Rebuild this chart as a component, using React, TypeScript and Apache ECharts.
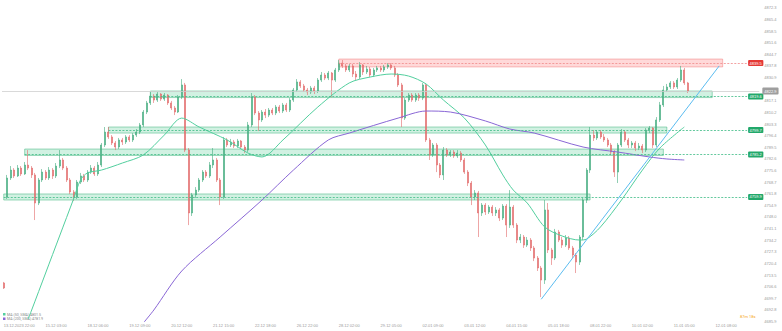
import { useEffect, useRef } from "react";
import * as echarts from "echarts";

// ---- candles: [open, close, low, high] kept as separate arrays ----
const opens = [4708.8,4759.9,4771.2,4775.9,4772.4,4777.1,4773.6,4778.9,4777.1,4773.0,4756.3,4770.0,4774.7,4771.2,4775.9,4772.4,4778.3,4781.9,4777.1,4770.0,4762.9,4759.9,4768.8,4772.4,4770.0,4774.7,4777.1,4773.6,4778.9,4790.8,4798.5,4795.6,4792.0,4789.6,4793.8,4792.6,4795.6,4793.8,4796.7,4798.5,4802.7,4810.4,4815.8,4819.9,4817.5,4821.1,4818.1,4820.5,4815.8,4812.8,4810.4,4819.3,4826.5,4787.8,4750.4,4761.1,4764.0,4770.0,4774.7,4772.4,4778.9,4781.9,4770.0,4759.9,4793.8,4790.8,4792.6,4790.2,4793.2,4789.6,4787.8,4802.7,4819.3,4809.8,4805.7,4810.4,4808.6,4811.6,4809.8,4813.4,4811.0,4814.6,4811.6,4817.5,4823.5,4828.3,4825.9,4823.5,4822.3,4824.7,4822.9,4829.4,4832.4,4830.6,4833.6,4829.4,4835.4,4839.5,4837.8,4835.4,4837.8,4833.0,4831.2,4838.4,4834.2,4836.0,4832.4,4835.4,4836.6,4835.4,4837.2,4838.4,4836.6,4832.4,4826.5,4806.8,4817.5,4820.5,4817.5,4820.5,4818.7,4826.5,4793.8,4784.9,4790.8,4778.9,4773.0,4787.8,4784.9,4786.6,4784.3,4786.0,4781.9,4774.7,4768.2,4759.9,4762.3,4750.4,4755.1,4751.0,4753.9,4750.4,4752.2,4747.4,4754.5,4743.2,4753.9,4743.2,4734.3,4736.1,4731.3,4734.3,4729.6,4723.6,4717.7,4710.5,4752.2,4728.4,4723.6,4739.1,4734.3,4731.3,4735.5,4729.6,4725.4,4721.2,4736.1,4758.1,4775.9,4796.7,4795.0,4798.5,4795.6,4793.8,4790.8,4786.6,4774.7,4790.8,4798.5,4793.8,4790.8,4792.0,4789.0,4790.2,4787.8,4799.7,4800.9,4790.8,4805.7,4814.6,4823.5,4825.3,4827.7,4825.3,4829.4,4835.4,4827.7];
const closes = [4705.8,4771.2,4775.9,4772.4,4777.1,4773.6,4778.9,4777.1,4773.0,4756.3,4770.0,4774.7,4771.2,4775.9,4772.4,4778.3,4781.9,4777.1,4770.0,4762.9,4759.9,4768.8,4772.4,4770.0,4774.7,4777.1,4773.6,4778.9,4790.8,4798.5,4795.6,4792.0,4789.6,4793.8,4792.6,4795.6,4793.8,4796.7,4798.5,4802.7,4810.4,4815.8,4819.9,4817.5,4821.1,4818.1,4820.5,4815.8,4812.8,4810.4,4819.3,4826.5,4787.8,4750.4,4761.1,4764.0,4770.0,4774.7,4772.4,4778.9,4781.9,4770.0,4759.9,4793.8,4790.8,4792.6,4790.2,4793.2,4789.6,4787.8,4802.7,4819.3,4809.8,4805.7,4810.4,4808.6,4811.6,4809.8,4813.4,4811.0,4814.6,4811.6,4817.5,4823.5,4828.3,4825.9,4823.5,4822.3,4824.7,4822.9,4829.4,4832.4,4830.6,4833.6,4829.4,4835.4,4839.5,4837.8,4835.4,4837.8,4833.0,4831.2,4838.4,4834.2,4836.0,4832.4,4835.4,4836.6,4835.4,4837.2,4838.4,4836.6,4832.4,4826.5,4806.8,4817.5,4820.5,4817.5,4820.5,4818.7,4826.5,4793.8,4784.9,4790.8,4778.9,4773.0,4787.8,4784.9,4786.6,4784.3,4786.0,4781.9,4774.7,4768.2,4759.9,4762.3,4750.4,4755.1,4751.0,4753.9,4750.4,4752.2,4747.4,4754.5,4743.2,4753.9,4743.2,4734.3,4736.1,4731.3,4734.3,4729.6,4723.6,4717.7,4710.5,4752.2,4728.4,4723.6,4739.1,4734.3,4731.3,4735.5,4729.6,4725.4,4721.2,4736.1,4758.1,4775.9,4796.7,4795.0,4798.5,4795.6,4793.8,4790.8,4786.6,4774.7,4790.8,4798.5,4793.8,4790.8,4792.0,4789.0,4790.2,4787.8,4799.7,4800.9,4790.8,4805.7,4814.6,4823.5,4825.3,4827.7,4825.3,4829.4,4835.4,4827.7,4822.9];
const lows = [4705.2,4758.7,4770.0,4771.2,4771.8,4772.4,4773.0,4775.9,4771.2,4746.2,4755.1,4768.8,4770.0,4770.0,4770.6,4771.2,4777.1,4775.9,4768.8,4761.7,4757.5,4758.7,4767.6,4768.8,4768.8,4773.6,4772.4,4772.4,4777.7,4789.6,4794.4,4790.8,4787.8,4788.4,4790.8,4791.4,4792.6,4792.6,4795.6,4797.3,4801.5,4809.2,4814.6,4815.8,4816.4,4817.0,4817.0,4814.6,4811.6,4808.6,4809.8,4818.1,4786.6,4743.2,4748.6,4759.3,4762.9,4768.8,4771.2,4771.2,4777.1,4768.8,4755.1,4758.7,4789.6,4789.6,4789.0,4789.0,4788.4,4786.0,4786.6,4801.5,4808.6,4799.1,4804.5,4806.8,4807.4,4808.6,4808.6,4809.8,4809.8,4810.4,4810.4,4816.4,4822.3,4824.7,4822.3,4820.5,4821.1,4821.1,4821.7,4828.3,4829.4,4829.4,4819.3,4828.3,4834.2,4836.6,4834.2,4834.2,4831.2,4829.4,4830.0,4832.4,4833.0,4831.2,4831.2,4834.2,4834.2,4834.2,4836.0,4835.4,4831.2,4825.3,4801.5,4805.7,4816.4,4816.4,4816.4,4817.0,4817.5,4792.6,4781.9,4783.7,4774.7,4771.2,4770.0,4783.7,4783.7,4783.1,4783.1,4780.7,4773.6,4766.4,4755.1,4758.1,4736.1,4748.6,4749.2,4749.8,4748.6,4748.6,4745.6,4746.2,4736.1,4741.5,4741.5,4732.5,4732.5,4729.6,4730.2,4727.8,4721.8,4715.9,4700.4,4708.2,4726.6,4719.5,4722.4,4733.1,4729.6,4730.2,4728.4,4723.6,4714.7,4719.5,4734.3,4756.3,4774.2,4793.2,4793.8,4794.4,4792.6,4789.6,4784.9,4771.8,4768.2,4789.6,4792.6,4789.0,4789.0,4787.2,4787.8,4786.0,4786.6,4797.9,4789.0,4789.6,4804.5,4813.4,4822.3,4824.1,4824.1,4824.1,4828.3,4826.5,4821.7];
const highs = [4709.4,4773.0,4778.3,4777.1,4778.9,4778.3,4780.7,4787.8,4778.3,4774.2,4771.2,4776.5,4775.9,4777.7,4777.1,4780.1,4787.8,4783.1,4778.3,4771.2,4764.0,4770.0,4774.2,4773.6,4775.9,4778.9,4778.3,4780.7,4792.0,4801.5,4801.5,4796.7,4793.2,4795.0,4795.0,4796.7,4796.7,4797.9,4800.3,4803.9,4811.6,4817.0,4822.3,4821.1,4822.3,4821.7,4821.7,4821.1,4817.0,4814.0,4820.5,4830.0,4827.7,4789.0,4762.3,4765.8,4771.2,4775.9,4775.9,4780.7,4789.0,4783.1,4771.2,4795.6,4795.0,4794.4,4793.8,4794.4,4793.8,4790.8,4804.5,4821.7,4820.5,4811.0,4811.6,4812.2,4812.8,4812.8,4814.6,4814.6,4815.8,4815.8,4818.7,4824.7,4830.0,4829.4,4827.1,4824.7,4825.9,4825.9,4830.6,4834.2,4833.6,4834.8,4834.2,4836.6,4841.3,4841.3,4839.0,4839.0,4839.0,4834.8,4840.1,4839.0,4837.8,4837.2,4836.6,4837.8,4837.8,4838.4,4839.5,4839.5,4837.8,4833.6,4827.7,4818.7,4821.7,4821.7,4821.7,4821.7,4827.7,4827.1,4795.0,4792.0,4792.0,4780.1,4789.6,4789.0,4787.8,4787.8,4787.8,4787.2,4783.1,4775.9,4769.4,4764.0,4763.5,4756.3,4756.3,4755.1,4755.1,4753.9,4753.3,4755.7,4755.7,4764.0,4755.1,4744.4,4737.9,4737.3,4736.1,4735.5,4730.8,4724.8,4718.9,4758.1,4756.3,4729.6,4740.9,4740.3,4736.1,4737.3,4736.7,4730.8,4726.6,4737.3,4759.3,4777.1,4801.5,4799.7,4799.7,4799.7,4797.3,4795.0,4792.0,4787.8,4792.0,4800.3,4799.7,4795.0,4793.2,4793.2,4792.0,4791.4,4800.9,4802.1,4801.5,4807.4,4816.4,4825.9,4827.1,4828.8,4828.8,4830.6,4837.8,4836.6,4828.3];

// ---- moving averages, read at knots: [bar index, value] ----
const ma50Points = [[7,4687.4],[8,4692.7],[12,4714.7],[16,4736.7],[20,4758.7],[22,4770.0],[24,4774.2],[28,4775.9],[34,4780.1],[40,4784.9],[46,4796.7],[51,4806.8],[56,4801.5],[64,4793.8],[70,4786.0],[74,4783.7],[80,4793.8],[90,4813.4],[99,4827.7],[105,4831.2],[111,4833.0],[116,4831.8],[121,4827.1],[126,4817.5],[132,4806.8],[138,4790.8],[143,4773.0],[146,4764.0],[150,4756.3],[155,4742.1],[160,4736.7],[165,4734.3],[167,4734.9],[171,4742.1],[177,4758.1],[183,4775.9],[188,4789.0],[195,4801.5]];
const ma200Points = [[40,4685.0],[43,4692.7],[51,4715.9],[62,4736.1],[74,4758.1],[83,4775.9],[93,4793.8],[99,4797.9],[113,4806.8],[121,4811.0],[128,4810.4],[138,4805.1],[145,4800.3],[152,4797.9],[166,4789.6],[176,4786.6],[185,4783.7],[190,4782.5],[195,4781.9]];
const ma50Value = "4801.5";
const ma200Value = "4781.9";

// ---- trend line: [bar index, value] ----
const trendStart = [154, 4699.1];
const trendEnd = [205, 4837.8];

// ---- zones ----
const zoneKind = ["red", "green", "green", "green", "green"];
const zoneStart = [96, 42, 30, 6, 0];
const zoneEnd = [206, 203, 190, 189, 168];
const zoneTop = [4841.9, 4822.9, 4801.5, 4788.4, 4761.7];
const zoneBottom = [4837.2, 4819.0, 4797.9, 4784.6, 4758.1];
const zoneLevel = [4839.5, 4819.6, 4799.7, 4785.2, 4759.9];
const lastPrice = 4822.9;

// ---- axes ----
const SLOTS = 217;
const LINE_END = 213;
const xTickLabels = ["13.12.2023 22:00","15.12 03:00","18.12 06:00","19.12 09:00","20.12 12:00","21.12 15:00","22.12 18:00","26.12 22:00","28.12 02:00","29.12 05:00","02.01 09:00","03.01 12:00","04.01 15:00","05.01 18:00","08.01 22:00","10.01 02:00","11.01 05:00","12.01 08:00"];
const X_TICK_FIRST = 3;
const X_TICK_STEP = 12;
const Y_MIN = 4685.885;
const Y_MAX = 4877.0;
const Y_STEP = 6.905;
const countdown = "87m 18s";

const UP = "#45ad80";
const DOWN = "#e36a6a";
const GREEN_LINE = "#3dbb85";
const RED_LINE = "#f08a8a";

export default function App() {
  const ref = useRef<HTMLDivElement>(null);
  useEffect(() => {
    if (!ref.current) return;
    const chart = echarts.init(ref.current, undefined, { renderer: "svg" });
    const cats = Array.from({ length: SLOTS }, (_, i) => String(i));
    const candles = opens.map((o, i) => [o, closes[i], lows[i], highs[i]]);

    const areas = zoneKind.map((k, j) => [
      {
        xAxis: zoneStart[j],
        yAxis: zoneTop[j],
        itemStyle: k === "red"
          ? { color: "rgba(255,120,120,0.28)", borderColor: "rgba(240,110,110,0.55)", borderWidth: 0.8 }
          : { color: "rgba(70,200,140,0.25)", borderColor: "rgba(50,175,115,0.6)", borderWidth: 0.8 },
      },
      { xAxis: zoneEnd[j], yAxis: zoneBottom[j] },
    ]);

    const lines: any[] = zoneKind.map((k, j) => [
      {
        coord: [zoneStart[j], zoneLevel[j]],
        lineStyle: { color: k === "red" ? RED_LINE : GREEN_LINE, type: [2, 1.5], width: 0.8 },
        label: {
          show: true,
          position: "end",
          distance: 1,
          formatter: zoneLevel[j].toFixed(1),
          backgroundColor: k === "red" ? "#e53935" : "#22a86a",
          color: "#fff",
          fontSize: 4,
          padding: [1, 1.5],
          borderRadius: 1,
        },
      },
      { coord: [LINE_END, zoneLevel[j]] },
    ]);
    lines.push({
      yAxis: lastPrice,
      lineStyle: { color: "#cfcfcf", type: "solid", width: 0.8 },
      label: {
        show: true,
        position: "end",
        distance: 3,
        formatter: lastPrice.toFixed(1),
        backgroundColor: "#9e9e9e",
        color: "#fff",
        fontSize: 4,
        padding: [1.5, 2],
        borderRadius: 1,
      },
    });
    lines.push([
      { coord: trendStart, lineStyle: { color: "#5bbcf0", type: "solid", width: 1 }, label: { show: false } },
      { coord: trendEnd },
    ]);

    chart.setOption({
      animation: false,
      backgroundColor: "#ffffff",
      grid: { left: 2, right: 22.67, top: 0, bottom: 9.5 },
      xAxis: {
        type: "category",
        data: cats,
        boundaryGap: true,
        axisLine: { show: false },
        axisTick: { show: false },
        splitLine: { show: false },
        axisLabel: {
          interval: (idx: number) => idx >= X_TICK_FIRST && (idx - X_TICK_FIRST) % X_TICK_STEP === 0,
          formatter: (_v: string, idx: number) => {
            const t = xTickLabels[(idx - X_TICK_FIRST) / X_TICK_STEP] ?? "";
            return idx === X_TICK_FIRST ? `{first|${t}}` : t;
          },
          rich: { first: { fontSize: 4, color: "#9a9a9a", padding: [0, 0, 0, 10] } },
          fontSize: 4,
          color: "#9a9a9a",
          margin: 2,
          hideOverlap: false,
        },
      },
      yAxis: {
        type: "value",
        position: "right",
        min: Y_MIN,
        max: Y_MAX,
        interval: Y_STEP,
        scale: true,
        axisLine: { show: false },
        axisTick: { show: false },
        splitLine: { show: false },
        axisLabel: {
          fontSize: 4,
          color: "#9a9a9a",
          margin: 5,
          showMaxLabel: false,
          // the tick under the current-price badge is hidden by the badge
          formatter: (v: number) => (Math.abs(v - lastPrice) < 3 ? "" : v.toFixed(1)),
        },
      },
      series: [
        {
          type: "candlestick",
          data: candles,
          barWidth: 1.5,
          itemStyle: { color: UP, color0: DOWN, borderColor: UP, borderColor0: DOWN, borderWidth: 0.6 },
          markArea: { silent: true, data: areas },
          markLine: { silent: true, symbol: ["none", "none"], data: lines },
        },
        {
          type: "line",
          data: ma50Points,
          showSymbol: false,
          smooth: 0.3,
          lineStyle: { color: "#52cf9e", width: 1 },
          z: 3,
        },
        {
          type: "line",
          data: ma200Points,
          showSymbol: false,
          smooth: 0.3,
          lineStyle: { color: "#8a67d6", width: 1 },
          z: 3,
        },
      ],
      graphic: [
        { type: "rect", left: 3, top: 313, shape: { width: 2.5, height: 2.5 }, style: { fill: "#52cf9e" } },
        { type: "text", left: 7, top: 312.6, style: { text: `MA (50, SMA) ${ma50Value}`, fontSize: 3.6, fill: "#888", fontFamily: "Roboto" } },
        { type: "rect", left: 3, top: 317.5, shape: { width: 2.5, height: 2.5 }, style: { fill: "#8a67d6" } },
        { type: "text", left: 7, top: 317.1, style: { text: `MA (200, SMA) ${ma200Value}`, fontSize: 3.6, fill: "#888", fontFamily: "Roboto" } },
        { type: "text", left: 740, top: 314.5, style: { text: countdown, fontSize: 4, fill: "#f5a623", fontFamily: "Roboto" } },
      ],
    });
    return () => chart.dispose();
  }, []);
  return <div ref={ref} style={{ width: 782, height: 331, position: "absolute", left: 0, top: 0 }} />;
}
